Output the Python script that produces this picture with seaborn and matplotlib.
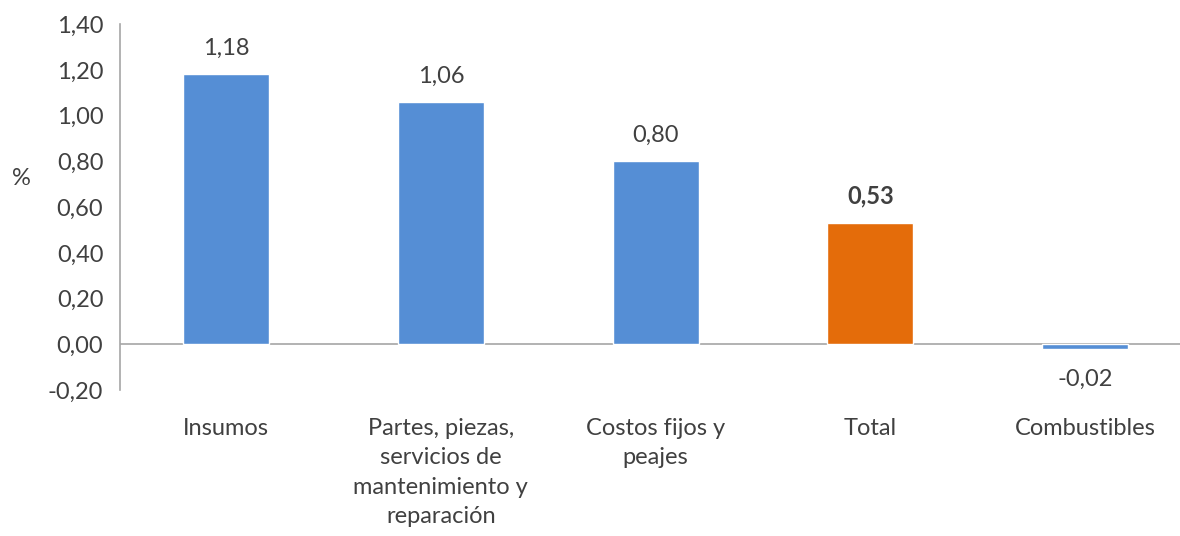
import matplotlib.pyplot as plt
import seaborn as sns
import pandas as pd
import numpy as np

categories = ["Insumos",
              "Partes, piezas,\nservicios de\nmantenimiento y\nreparación",
              "Costos fijos y\npeajes",
              "Total",
              "Combustibles"]
values = [1.18, 1.06, 0.80, 0.53, -0.02]
groups = ["comp", "comp", "comp", "total", "comp"]
y_ticks = [-0.20, 0.00, 0.20, 0.40, 0.60, 0.80, 1.00, 1.20, 1.40]

df = pd.DataFrame({"cat": categories, "val": values, "grp": groups})

sns.set_style("white")
plt.rcParams["font.family"] = ["Lato", "DejaVu Sans"]
txt = "#404040"
fs = 17

fig = plt.figure(figsize=(11.8, 5.36), dpi=100)
ax = fig.add_axes([0.1017, 0.272, 0.898, 0.683])

sns.barplot(data=df, x="cat", y="val", hue="grp",
            palette={"comp": "#558ED5", "total": "#E46C0A"},
            saturation=1, dodge=False, width=0.40, legend=False, ax=ax)

ax.set_ylim(-0.20, 1.40)
ax.set_xlim(-0.494, 4.44)
ax.set_yticks(y_ticks)
ax.set_yticklabels([f"{t:.2f}".replace(".", ",") for t in y_ticks])
ax.axhline(0, color="#A6A6A6", lw=1.2, zorder=0)

for s in ["top", "right", "bottom"]:
    ax.spines[s].set_visible(False)
ax.spines["left"].set_color("#A6A6A6")
ax.spines["left"].set_linewidth(1.2)

ax.tick_params(axis="y", length=0, labelsize=fs, labelcolor=txt, pad=12)
ax.tick_params(axis="x", length=0, labelsize=fs, labelcolor=txt, pad=20)
for lbl in ax.get_xticklabels():
    lbl.set_verticalalignment("top")
    lbl.set_linespacing(1.5)

ax.set_xlabel("")
ax.set_ylabel("%", rotation=0, fontsize=fs, color=txt)
ax.yaxis.set_label_coords(-0.093, 0.55)

for i, v in enumerate(values):
    label = f"{v:.2f}".replace(".", ",")
    bold = groups[i] == "total"
    if v >= 0:
        ax.annotate(label, (i, v), xytext=(0, 11), textcoords="offset points",
                    ha="center", va="bottom", fontsize=fs, color=txt,
                    fontweight="bold" if bold else "normal")
    else:
        ax.annotate(label, (i, v), xytext=(0, -14), textcoords="offset points",
                    ha="center", va="top", fontsize=fs, color=txt)

fig.savefig("out.png", dpi=100)
